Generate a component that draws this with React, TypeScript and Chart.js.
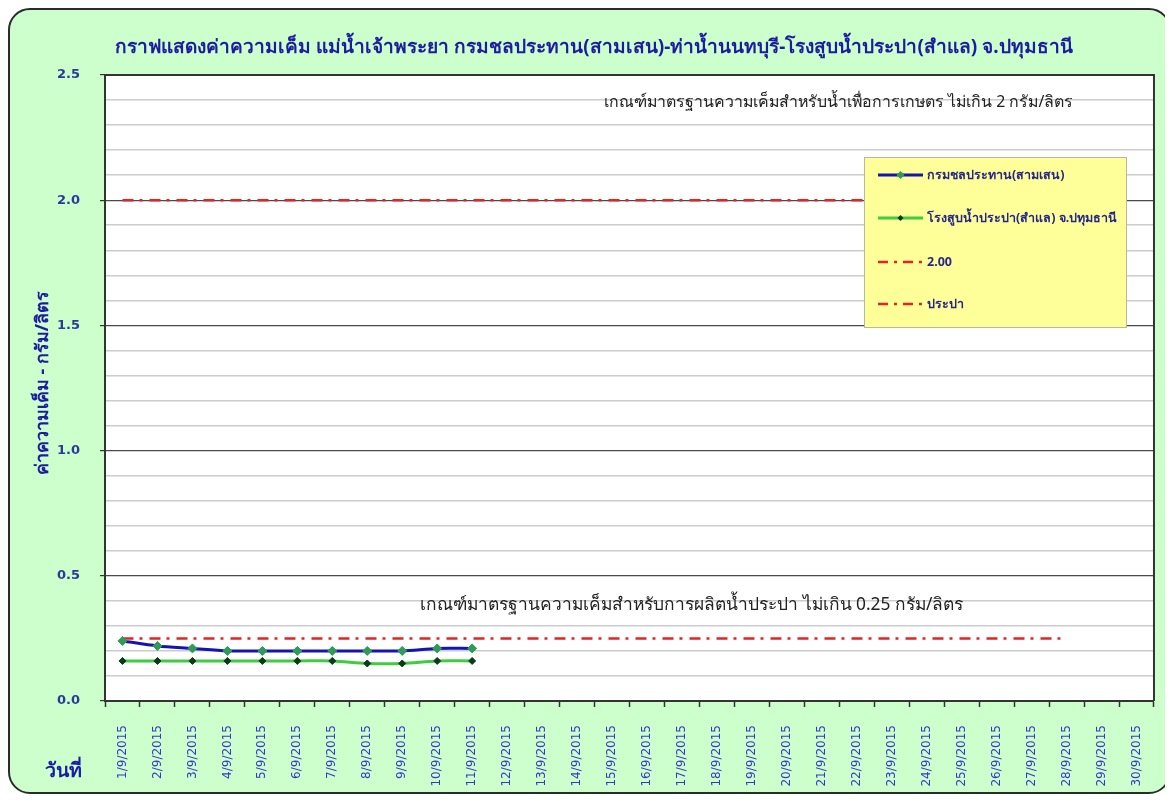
import React, { useEffect, useRef } from 'react';
import { Chart, registerables } from 'chart.js';

Chart.register(...registerables);

const dates = [
  '1/9/2015', '2/9/2015', '3/9/2015', '4/9/2015', '5/9/2015', '6/9/2015', '7/9/2015', '8/9/2015', '9/9/2015', '10/9/2015',
  '11/9/2015', '12/9/2015', '13/9/2015', '14/9/2015', '15/9/2015', '16/9/2015', '17/9/2015', '18/9/2015', '19/9/2015', '20/9/2015',
  '21/9/2015', '22/9/2015', '23/9/2015', '24/9/2015', '25/9/2015', '26/9/2015', '27/9/2015', '28/9/2015', '29/9/2015', '30/9/2015',
];

const samsen = [0.24, 0.22, 0.21, 0.20, 0.20, 0.20, 0.20, 0.20, 0.20, 0.21, 0.21];
const samlae = [0.16, 0.16, 0.16, 0.16, 0.16, 0.16, 0.16, 0.15, 0.15, 0.16, 0.16];
const agriLimit = [
  2.0, 2.0, 2.0, 2.0, 2.0, 2.0, 2.0, 2.0, 2.0, 2.0, 2.0, 2.0, 2.0, 2.0,
  2.0, 2.0, 2.0, 2.0, 2.0, 2.0, 2.0, 2.0, 2.0, 2.0, 2.0, 2.0, 2.0, 2.0,
];
const waterLimit = [
  0.25, 0.25, 0.25, 0.25, 0.25, 0.25, 0.25, 0.25, 0.25, 0.25, 0.25, 0.25, 0.25, 0.25,
  0.25, 0.25, 0.25, 0.25, 0.25, 0.25, 0.25, 0.25, 0.25, 0.25, 0.25, 0.25, 0.25, 0.25,
];
const seriesNames = ['กรมชลประทาน(สามเสน)', 'โรงสูบน้ำประปา(สำแล) จ.ปทุมธานี', '2.00', 'ประปา'];

const titleText = 'กราฟแสดงค่าความเค็ม แม่น้ำเจ้าพระยา กรมชลประทาน(สามเสน)-ท่าน้ำนนทบุรี-โรงสูบน้ำประปา(สำแล) จ.ปทุมธานี';
const yTitleText = 'ค่าความเค็ม - กรัม/ลิตร';
const xTitleText = 'วันที่';
const agriNote = 'เกณฑ์มาตรฐานความเค็มสำหรับน้ำเพื่อการเกษตร ไม่เกิน 2 กรัม/ลิตร';
const waterNote = 'เกณฑ์มาตรฐานความเค็มสำหรับการผลิตน้ำประปา ไม่เกิน 0.25 กรัม/ลิตร';

const FONT = "Tahoma, 'Noto Sans', 'DejaVu Sans', sans-serif";
const BLUE_TEXT = '#1c1ca0';

function fitFont(ctx: CanvasRenderingContext2D, text: string, weight: string, base: number, width: number) {
  ctx.font = `${weight} ${base}px ${FONT}`;
  const w = ctx.measureText(text).width;
  const size = Math.min(base * 1.6, (base * width) / w);
  ctx.font = `${weight} ${size}px ${FONT}`;
}

const overlay = {
  id: 'overlay',
  beforeDraw(chart: any) {
    const { ctx, chartArea: a } = chart;
    ctx.save();
    ctx.fillStyle = '#ffffff';
    ctx.fillRect(a.left, a.top, a.right - a.left, a.bottom - a.top);
    ctx.restore();
  },
  afterDraw(chart: any) {
    const { ctx, chartArea: a } = chart;
    const yS = chart.scales.y;
    ctx.save();
    // plot border right/top
    ctx.strokeStyle = '#333333';
    ctx.lineWidth = 2;
    ctx.beginPath();
    ctx.moveTo(a.left, a.top);
    ctx.lineTo(a.right, a.top);
    ctx.lineTo(a.right, a.bottom);
    ctx.stroke();

    // title
    ctx.fillStyle = BLUE_TEXT;
    ctx.textAlign = 'center';
    ctx.textBaseline = 'middle';
    fitFont(ctx, titleText, 'bold', 20, 950);
    ctx.fillText(titleText, 584, 38);

    // notes
    ctx.fillStyle = '#222222';
    ctx.textAlign = 'left';
    fitFont(ctx, agriNote, 'normal', 13, 469);
    ctx.fillText(agriNote, 594, yS.getPixelForValue(2.39));
    fitFont(ctx, waterNote, 'normal', 13, 542);
    ctx.fillText(waterNote, 410, yS.getPixelForValue(0.385));

    // y title
    ctx.save();
    ctx.translate(33, 373);
    ctx.rotate(-Math.PI / 2);
    ctx.fillStyle = BLUE_TEXT;
    ctx.textAlign = 'center';
    fitFont(ctx, yTitleText, 'bold', 14, 182);
    ctx.fillText(yTitleText, 0, 0);
    ctx.restore();

    // x title
    ctx.fillStyle = BLUE_TEXT;
    ctx.textAlign = 'center';
    fitFont(ctx, xTitleText, 'bold', 16, 38);
    ctx.fillText(xTitleText, 53, 761);

    // legend
    const lx = 854, ly = 147, lw = 262, lh = 170;
    ctx.fillStyle = '#ffff99';
    ctx.fillRect(lx, ly, lw, lh);
    ctx.strokeStyle = '#b8b8a0';
    ctx.lineWidth = 1;
    ctx.strokeRect(lx + 0.5, ly + 0.5, lw, lh);
    const rows = [165, 208, 252, 294];
    chart.data.datasets.forEach((ds: any, i: number) => {
      const y = rows[i];
      ctx.save();
      ctx.strokeStyle = ds.borderColor;
      ctx.lineWidth = ds.borderWidth;
      ctx.setLineDash(ds.borderDash ? [10, 6, 3, 6] : []);
      ctx.beginPath();
      ctx.moveTo(868, y);
      ctx.lineTo(913, y);
      ctx.stroke();
      ctx.setLineDash([]);
      if (ds.pointRadius > 0) {
        ctx.fillStyle = ds.pointBackgroundColor;
        const r = ds.pointRadius - 0.5;
        ctx.beginPath();
        ctx.moveTo(890.5, y - r);
        ctx.lineTo(890.5 + r, y);
        ctx.lineTo(890.5, y + r);
        ctx.lineTo(890.5 - r, y);
        ctx.closePath();
        ctx.fill();
      }
      ctx.restore();
      ctx.fillStyle = '#26268a';
      ctx.textAlign = 'left';
      ctx.textBaseline = 'middle';
      ctx.font = `bold 12.5px ${FONT}`;
      ctx.fillText(ds.label, 917, y);
    });
    ctx.restore();
  },
};

const isMajor = (v: number) => Math.round(v * 10) % 5 === 0;

export default function App() {
  const ref = useRef<HTMLCanvasElement>(null);

  useEffect(() => {
    if (!ref.current) return;
    const chart = new Chart(ref.current, {
      type: 'line',
      data: {
        labels: dates,
        datasets: [
          {
            label: seriesNames[0],
            data: samsen,
            borderColor: '#1414b4',
            borderWidth: 3,
            tension: 0.3,
            pointStyle: 'rectRot',
            pointRadius: 4.5,
            pointBackgroundColor: '#2f9a5a',
            pointBorderColor: '#2f9a5a',
            pointBorderWidth: 1,
          },
          {
            label: seriesNames[1],
            data: samlae,
            borderColor: '#40cc40',
            borderWidth: 3,
            tension: 0.3,
            pointStyle: 'rectRot',
            pointRadius: 3.5,
            pointBackgroundColor: '#0b3a18',
            pointBorderColor: '#0b3a18',
            pointBorderWidth: 1,
          },
          {
            label: seriesNames[2],
            data: agriLimit,
            borderColor: '#e82222',
            borderWidth: 2.5,
            borderDash: [11, 6, 3, 7],
            pointRadius: 0,
          },
          {
            label: seriesNames[3],
            data: waterLimit,
            borderColor: '#e82222',
            borderWidth: 2.5,
            borderDash: [11, 6, 3, 7],
            pointRadius: 0,
          },
        ],
      },
      options: {
        responsive: false,
        animation: false,
        layout: { padding: { top: 65, right: 6, left: 0, bottom: 0 } },
        plugins: { legend: { display: false }, title: { display: false }, tooltip: { enabled: false } },
        scales: {
          x: {
            type: 'category',
            offset: true,
            grid: { display: true, drawOnChartArea: false, offset: true, tickLength: 6, tickColor: '#333333', tickWidth: 1.5 },
            border: { color: '#333333', width: 2 },
            ticks: {
              autoSkip: false,
              minRotation: 90,
              maxRotation: 90,
              padding: 18,
              color: '#3636c8',
              font: { family: "'DejaVu Sans', sans-serif", size: 12 },
            },
            afterFit: (s: any) => { s.height = 91; },
          },
          y: {
            min: 0,
            max: 2.5,
            ticks: {
              stepSize: 0.1,
              autoSkip: false,
              padding: 20,
              color: '#2a3a9a',
              font: { family: "'DejaVu Sans', sans-serif", size: 13, weight: 'bold' },
              callback: (v: any) => (isMajor(Number(v)) ? Number(v).toFixed(1) : ''),
            },
            grid: {
              color: (c: any) => (isMajor(c.tick.value) ? '#4a4a4a' : '#cccccc'),
              lineWidth: (c: any) => (isMajor(c.tick.value) ? 1.2 : 1.5),
              tickColor: (c: any) => (isMajor(c.tick.value) ? '#333333' : 'rgba(0,0,0,0)'),
              tickLength: 5,
            },
            border: { color: '#333333', width: 2 },
            afterFit: (s: any) => { s.width = 95; },
          },
        },
      },
      plugins: [overlay],
    } as any);
    return () => chart.destroy();
  }, []);

  return (
    <div
      style={{
        width: 1163,
        height: 786,
        boxSizing: 'border-box',
        border: '2px solid #2b2b2b',
        borderRadius: 22,
        background: '#ccffcc',
        overflow: 'hidden',
      }}
    >
      <canvas ref={ref} width={1159} height={782} style={{ display: 'block' }} />
    </div>
  );
}
